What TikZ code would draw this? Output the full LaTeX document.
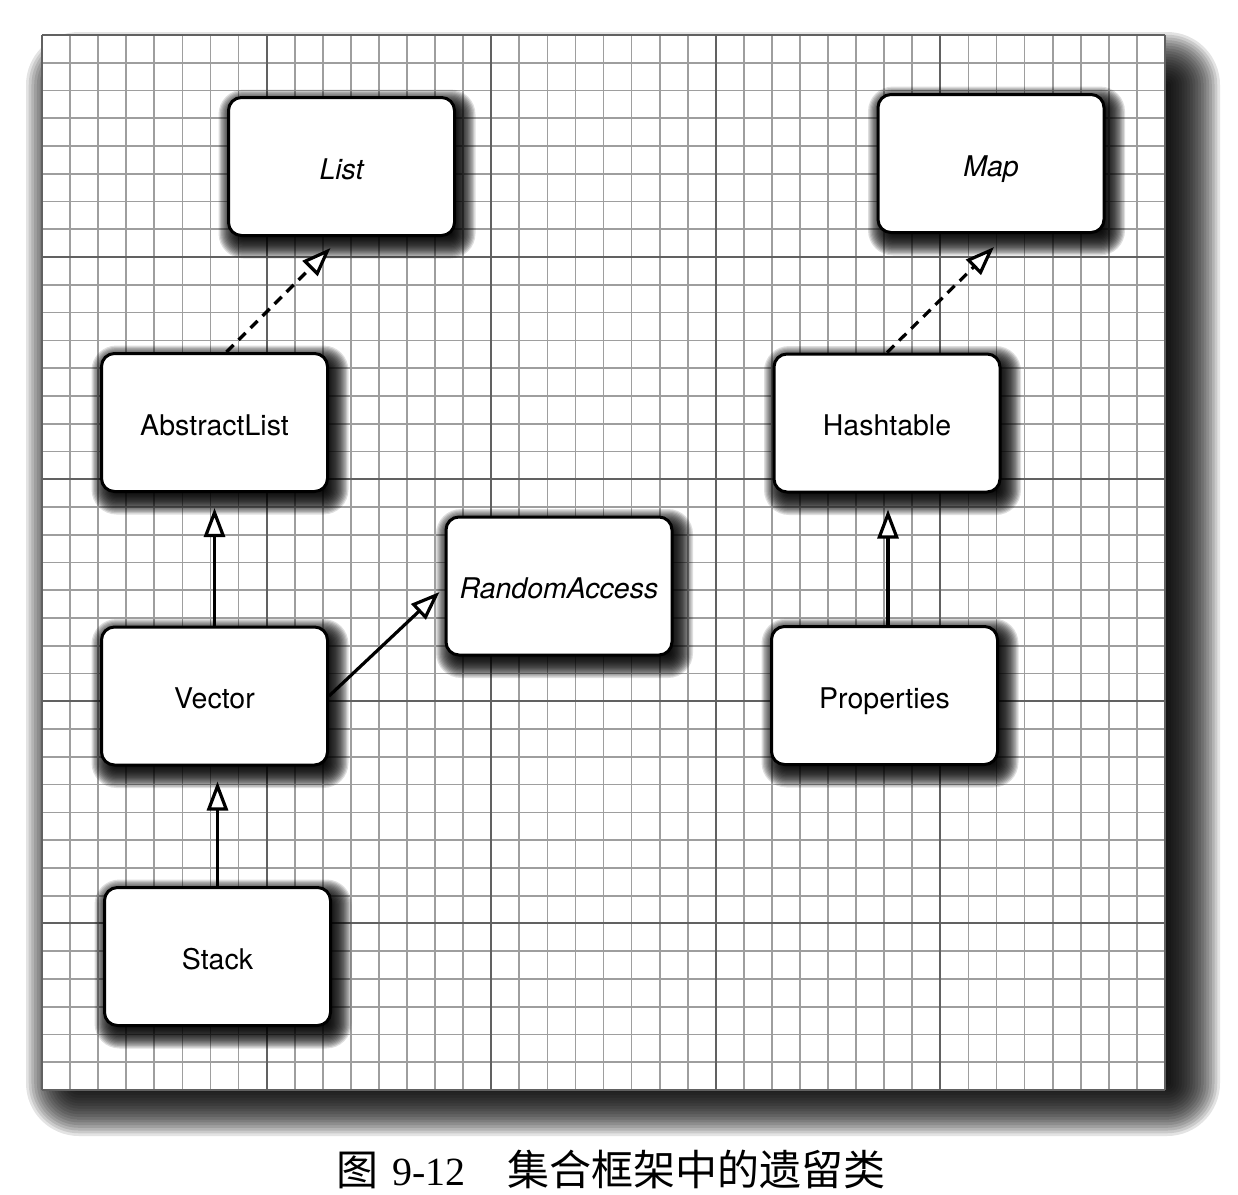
\documentclass[tikz,border=0pt]{standalone}
\usepackage{fontspec}
\setmainfont{TeX Gyre Heros}
\newfontfamily\cjk{Noto Sans CJK SC}
\newfontfamily\tnr{Liberation Serif}
\usetikzlibrary{arrows.meta,calc}
% blurred shadow: x1,y1,x2,y2,R,opacity
\newcommand\blurrect[6]{%
  \foreach \i in {0,...,19}{%
    \pgfmathsetmacro\rr{#5*(\i/9.5-1)}%
    \pgfmathsetmacro\rc{#5+\rr+1}%
    \fill[black,opacity=#6,rounded corners=\rc pt] ({#1-\rr},{#2-\rr}) rectangle ({#3+\rr},{#4+\rr});
  }}
\tikzset{
  umlbox/.style={draw=black, line width=3pt, fill=white, rounded corners=13pt,
    minimum width=226pt, minimum height=138pt, inner sep=0pt,
    text height=25pt, text depth=0pt,
    font=\fontsize{28.5}{34}\selectfont},
  inh/.style={line width=3.2pt, -{Triangle[length=29pt,width=21pt,fill=white]}},
  dashline/.style={dash pattern=on 10pt off 7pt},
  fineline/.style={black!38, line width=1.7pt},
  majorline/.style={black!62, line width=2.1pt}
}
\newcommand\umlnode[4]{%
  \blurrect{#2-113+2}{#3-69+4}{#2+113+9}{#3+69+11}{12}{0.13}
  \node[umlbox] (#1) at (#2,#3) {#4};
}
\begin{document}
\begin{tikzpicture}[x=1pt,y=-1pt]
\useasboundingbox (0,0) rectangle (1238,1194);
\fill[white] (0,0) rectangle (1238,1194);
% panel shadow
\blurrect{52}{58}{1194}{1110}{26}{0.11}
% panel
\fill[white] (42,35) rectangle (1165,1090);
% fine grid
\foreach \k in {0,...,40}{
  \pgfmathsetmacro\xx{42+\k*28.075}
  \draw[fineline] (\xx,35) -- (\xx,1090);
}
\foreach \k in {0,...,38}{
  \pgfmathsetmacro\yy{35+\k*27.763}
  \draw[fineline] (42,\yy) -- (1165,\yy);
}
% major grid
\foreach \k in {0,8,16,24,32,40}{
  \pgfmathsetmacro\xx{42+\k*28.075}
  \draw[majorline] (\xx,35) -- (\xx,1090);
}
\foreach \k in {0,8,16,24,32,38}{
  \pgfmathsetmacro\yy{35+\k*27.763}
  \draw[majorline] (42,\yy) -- (1165,\yy);
}
% boxes
\umlnode{list}{341.5}{166.5}{\itshape List}
\umlnode{map}{991}{163.5}{\itshape Map}
\umlnode{abstractlist}{214.5}{422.5}{AbstractList}
\umlnode{hashtable}{887}{423}{Hashtable}
\umlnode{randomaccess}{559}{586}{\itshape RandomAccess}
\umlnode{vector}{214.5}{696}{Vector}
\umlnode{properties}{884.5}{695.5}{Properties}
\umlnode{stack}{217.5}{956.5}{Stack}
% connector ends
\coordinate (a1s) at ($(abstractlist.north)+(12,0)$);
\coordinate (a1t) at ($(list.south)+(-11,11)$);
\coordinate (h1t) at ($(map.south)+(3,13)$);
\coordinate (v1t) at ($(abstractlist.south)+(0,15)$);
\coordinate (s1t) at ($(vector.south)+(3,15)$);
\coordinate (p1s) at ($(properties.north)+(3.5,0)$);
\coordinate (p1t) at ($(hashtable.south)+(1,16)$);
\coordinate (r1t) at ($(randomaccess.west)+(-5,6)$);
% connectors
\draw[inh,dashline] (a1s) -- (a1t);
\draw[inh,dashline] (hashtable.north) -- (h1t);
\draw[inh] (vector.north) -- (v1t);
\draw[inh] (stack.north) -- (s1t);
\draw[inh] (p1s) -- (p1t);
\draw[inh] (vector.east) -- (r1t);
% caption
\node[anchor=base west, inner sep=0pt, font=\fontsize{42}{46}\selectfont] (caption) at (336,1185)
  {\cjk 图\hspace{14pt}{\tnr\fontsize{40}{46}\selectfont 9-12}\hspace{42pt}集合框架中的遗留类};
\end{tikzpicture}
\end{document}
